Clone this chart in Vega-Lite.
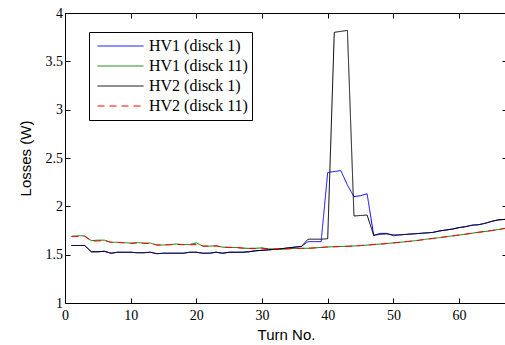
{
  "$schema": "https://vega.github.io/schema/vega-lite/v6.json",
  "width": 442,
  "height": 290,
  "autosize": {"type": "none"},
  "padding": {"left": 65, "top": 13, "right": 0, "bottom": 42},
  "background": "white",
  "config": {
    "view": {"stroke": "black", "strokeWidth": 1},
    "axis": {
      "domainColor": "black",
      "tickColor": "black",
      "labelColor": "black",
      "titleColor": "black",
      "grid": false,
      "labelFont": "Liberation Serif",
      "labelFontSize": 14,
      "titleFont": "Liberation Sans",
      "titleFontSize": 15,
      "titleFontWeight": "normal",
      "tickSize": -5
    }
  },
  "datasets": {
    "losses": [
      {"turn":1,"series":"HV1 (disck 1)","loss":1.595},{"turn":2,"series":"HV1 (disck 1)","loss":1.595},{"turn":3,"series":"HV1 (disck 1)","loss":1.595},{"turn":4,"series":"HV1 (disck 1)","loss":1.53},{"turn":5,"series":"HV1 (disck 1)","loss":1.53},{"turn":6,"series":"HV1 (disck 1)","loss":1.535},{"turn":7,"series":"HV1 (disck 1)","loss":1.515},{"turn":8,"series":"HV1 (disck 1)","loss":1.525},{"turn":9,"series":"HV1 (disck 1)","loss":1.525},{"turn":10,"series":"HV1 (disck 1)","loss":1.525},{"turn":11,"series":"HV1 (disck 1)","loss":1.52},{"turn":12,"series":"HV1 (disck 1)","loss":1.52},{"turn":13,"series":"HV1 (disck 1)","loss":1.525},{"turn":14,"series":"HV1 (disck 1)","loss":1.51},{"turn":15,"series":"HV1 (disck 1)","loss":1.515},{"turn":16,"series":"HV1 (disck 1)","loss":1.515},{"turn":17,"series":"HV1 (disck 1)","loss":1.515},{"turn":18,"series":"HV1 (disck 1)","loss":1.515},{"turn":19,"series":"HV1 (disck 1)","loss":1.525},{"turn":20,"series":"HV1 (disck 1)","loss":1.525},{"turn":21,"series":"HV1 (disck 1)","loss":1.515},{"turn":22,"series":"HV1 (disck 1)","loss":1.515},{"turn":23,"series":"HV1 (disck 1)","loss":1.525},{"turn":24,"series":"HV1 (disck 1)","loss":1.515},{"turn":25,"series":"HV1 (disck 1)","loss":1.525},{"turn":26,"series":"HV1 (disck 1)","loss":1.525},{"turn":27,"series":"HV1 (disck 1)","loss":1.525},{"turn":28,"series":"HV1 (disck 1)","loss":1.53},{"turn":29,"series":"HV1 (disck 1)","loss":1.54},{"turn":30,"series":"HV1 (disck 1)","loss":1.545},{"turn":31,"series":"HV1 (disck 1)","loss":1.55},{"turn":32,"series":"HV1 (disck 1)","loss":1.555},{"turn":33,"series":"HV1 (disck 1)","loss":1.562},{"turn":34,"series":"HV1 (disck 1)","loss":1.57},{"turn":35,"series":"HV1 (disck 1)","loss":1.578},{"turn":36,"series":"HV1 (disck 1)","loss":1.585},{"turn":37,"series":"HV1 (disck 1)","loss":1.635},{"turn":38,"series":"HV1 (disck 1)","loss":1.635},{"turn":39,"series":"HV1 (disck 1)","loss":1.635},{"turn":40,"series":"HV1 (disck 1)","loss":2.35},{"turn":41,"series":"HV1 (disck 1)","loss":2.36},{"turn":42,"series":"HV1 (disck 1)","loss":2.37},{"turn":43,"series":"HV1 (disck 1)","loss":2.22},{"turn":44,"series":"HV1 (disck 1)","loss":2.1},{"turn":45,"series":"HV1 (disck 1)","loss":2.11},{"turn":46,"series":"HV1 (disck 1)","loss":2.13},{"turn":47,"series":"HV1 (disck 1)","loss":1.7},{"turn":48,"series":"HV1 (disck 1)","loss":1.72},{"turn":49,"series":"HV1 (disck 1)","loss":1.72},{"turn":50,"series":"HV1 (disck 1)","loss":1.695},{"turn":51,"series":"HV1 (disck 1)","loss":1.705},{"turn":52,"series":"HV1 (disck 1)","loss":1.71},{"turn":53,"series":"HV1 (disck 1)","loss":1.715},{"turn":54,"series":"HV1 (disck 1)","loss":1.72},{"turn":55,"series":"HV1 (disck 1)","loss":1.725},{"turn":56,"series":"HV1 (disck 1)","loss":1.73},{"turn":57,"series":"HV1 (disck 1)","loss":1.745},{"turn":58,"series":"HV1 (disck 1)","loss":1.755},{"turn":59,"series":"HV1 (disck 1)","loss":1.765},{"turn":60,"series":"HV1 (disck 1)","loss":1.78},{"turn":61,"series":"HV1 (disck 1)","loss":1.79},{"turn":62,"series":"HV1 (disck 1)","loss":1.805},{"turn":63,"series":"HV1 (disck 1)","loss":1.81},{"turn":64,"series":"HV1 (disck 1)","loss":1.825},{"turn":65,"series":"HV1 (disck 1)","loss":1.845},{"turn":66,"series":"HV1 (disck 1)","loss":1.86},{"turn":67,"series":"HV1 (disck 1)","loss":1.865},

      {"turn":1,"series":"HV1 (disck 11)","loss":1.69},{"turn":2,"series":"HV1 (disck 11)","loss":1.695},{"turn":3,"series":"HV1 (disck 11)","loss":1.695},{"turn":4,"series":"HV1 (disck 11)","loss":1.645},{"turn":5,"series":"HV1 (disck 11)","loss":1.65},{"turn":6,"series":"HV1 (disck 11)","loss":1.65},{"turn":7,"series":"HV1 (disck 11)","loss":1.628},{"turn":8,"series":"HV1 (disck 11)","loss":1.628},{"turn":9,"series":"HV1 (disck 11)","loss":1.625},{"turn":10,"series":"HV1 (disck 11)","loss":1.62},{"turn":11,"series":"HV1 (disck 11)","loss":1.625},{"turn":12,"series":"HV1 (disck 11)","loss":1.62},{"turn":13,"series":"HV1 (disck 11)","loss":1.62},{"turn":14,"series":"HV1 (disck 11)","loss":1.6},{"turn":15,"series":"HV1 (disck 11)","loss":1.6},{"turn":16,"series":"HV1 (disck 11)","loss":1.605},{"turn":17,"series":"HV1 (disck 11)","loss":1.61},{"turn":18,"series":"HV1 (disck 11)","loss":1.605},{"turn":19,"series":"HV1 (disck 11)","loss":1.605},{"turn":20,"series":"HV1 (disck 11)","loss":1.622},{"turn":21,"series":"HV1 (disck 11)","loss":1.588},{"turn":22,"series":"HV1 (disck 11)","loss":1.588},{"turn":23,"series":"HV1 (disck 11)","loss":1.592},{"turn":24,"series":"HV1 (disck 11)","loss":1.578},{"turn":25,"series":"HV1 (disck 11)","loss":1.575},{"turn":26,"series":"HV1 (disck 11)","loss":1.575},{"turn":27,"series":"HV1 (disck 11)","loss":1.568},{"turn":28,"series":"HV1 (disck 11)","loss":1.565},{"turn":29,"series":"HV1 (disck 11)","loss":1.566},{"turn":30,"series":"HV1 (disck 11)","loss":1.57},{"turn":31,"series":"HV1 (disck 11)","loss":1.56},{"turn":32,"series":"HV1 (disck 11)","loss":1.558},{"turn":33,"series":"HV1 (disck 11)","loss":1.556},{"turn":34,"series":"HV1 (disck 11)","loss":1.562},{"turn":35,"series":"HV1 (disck 11)","loss":1.565},{"turn":36,"series":"HV1 (disck 11)","loss":1.566},{"turn":37,"series":"HV1 (disck 11)","loss":1.566},{"turn":38,"series":"HV1 (disck 11)","loss":1.57},{"turn":39,"series":"HV1 (disck 11)","loss":1.575},{"turn":40,"series":"HV1 (disck 11)","loss":1.58},{"turn":41,"series":"HV1 (disck 11)","loss":1.582},{"turn":42,"series":"HV1 (disck 11)","loss":1.585},{"turn":43,"series":"HV1 (disck 11)","loss":1.587},{"turn":44,"series":"HV1 (disck 11)","loss":1.59},{"turn":45,"series":"HV1 (disck 11)","loss":1.594},{"turn":46,"series":"HV1 (disck 11)","loss":1.599},{"turn":47,"series":"HV1 (disck 11)","loss":1.605},{"turn":48,"series":"HV1 (disck 11)","loss":1.61},{"turn":49,"series":"HV1 (disck 11)","loss":1.615},{"turn":50,"series":"HV1 (disck 11)","loss":1.622},{"turn":51,"series":"HV1 (disck 11)","loss":1.628},{"turn":52,"series":"HV1 (disck 11)","loss":1.635},{"turn":53,"series":"HV1 (disck 11)","loss":1.642},{"turn":54,"series":"HV1 (disck 11)","loss":1.65},{"turn":55,"series":"HV1 (disck 11)","loss":1.66},{"turn":56,"series":"HV1 (disck 11)","loss":1.668},{"turn":57,"series":"HV1 (disck 11)","loss":1.676},{"turn":58,"series":"HV1 (disck 11)","loss":1.685},{"turn":59,"series":"HV1 (disck 11)","loss":1.694},{"turn":60,"series":"HV1 (disck 11)","loss":1.703},{"turn":61,"series":"HV1 (disck 11)","loss":1.712},{"turn":62,"series":"HV1 (disck 11)","loss":1.722},{"turn":63,"series":"HV1 (disck 11)","loss":1.732},{"turn":64,"series":"HV1 (disck 11)","loss":1.74},{"turn":65,"series":"HV1 (disck 11)","loss":1.75},{"turn":66,"series":"HV1 (disck 11)","loss":1.76},{"turn":67,"series":"HV1 (disck 11)","loss":1.772},

      {"turn":1,"series":"HV2 (disck 1)","loss":1.595},{"turn":2,"series":"HV2 (disck 1)","loss":1.595},{"turn":3,"series":"HV2 (disck 1)","loss":1.595},{"turn":4,"series":"HV2 (disck 1)","loss":1.53},{"turn":5,"series":"HV2 (disck 1)","loss":1.53},{"turn":6,"series":"HV2 (disck 1)","loss":1.535},{"turn":7,"series":"HV2 (disck 1)","loss":1.515},{"turn":8,"series":"HV2 (disck 1)","loss":1.525},{"turn":9,"series":"HV2 (disck 1)","loss":1.525},{"turn":10,"series":"HV2 (disck 1)","loss":1.525},{"turn":11,"series":"HV2 (disck 1)","loss":1.52},{"turn":12,"series":"HV2 (disck 1)","loss":1.52},{"turn":13,"series":"HV2 (disck 1)","loss":1.525},{"turn":14,"series":"HV2 (disck 1)","loss":1.51},{"turn":15,"series":"HV2 (disck 1)","loss":1.515},{"turn":16,"series":"HV2 (disck 1)","loss":1.515},{"turn":17,"series":"HV2 (disck 1)","loss":1.515},{"turn":18,"series":"HV2 (disck 1)","loss":1.515},{"turn":19,"series":"HV2 (disck 1)","loss":1.525},{"turn":20,"series":"HV2 (disck 1)","loss":1.525},{"turn":21,"series":"HV2 (disck 1)","loss":1.515},{"turn":22,"series":"HV2 (disck 1)","loss":1.515},{"turn":23,"series":"HV2 (disck 1)","loss":1.525},{"turn":24,"series":"HV2 (disck 1)","loss":1.515},{"turn":25,"series":"HV2 (disck 1)","loss":1.525},{"turn":26,"series":"HV2 (disck 1)","loss":1.525},{"turn":27,"series":"HV2 (disck 1)","loss":1.525},{"turn":28,"series":"HV2 (disck 1)","loss":1.53},{"turn":29,"series":"HV2 (disck 1)","loss":1.54},{"turn":30,"series":"HV2 (disck 1)","loss":1.545},{"turn":31,"series":"HV2 (disck 1)","loss":1.55},{"turn":32,"series":"HV2 (disck 1)","loss":1.555},{"turn":33,"series":"HV2 (disck 1)","loss":1.562},{"turn":34,"series":"HV2 (disck 1)","loss":1.57},{"turn":35,"series":"HV2 (disck 1)","loss":1.578},{"turn":36,"series":"HV2 (disck 1)","loss":1.585},{"turn":37,"series":"HV2 (disck 1)","loss":1.66},{"turn":38,"series":"HV2 (disck 1)","loss":1.66},{"turn":39,"series":"HV2 (disck 1)","loss":1.66},{"turn":40,"series":"HV2 (disck 1)","loss":1.665},{"turn":41,"series":"HV2 (disck 1)","loss":3.8},{"turn":42,"series":"HV2 (disck 1)","loss":3.81},{"turn":43,"series":"HV2 (disck 1)","loss":3.82},{"turn":44,"series":"HV2 (disck 1)","loss":1.9},{"turn":45,"series":"HV2 (disck 1)","loss":1.905},{"turn":46,"series":"HV2 (disck 1)","loss":1.91},{"turn":47,"series":"HV2 (disck 1)","loss":1.7},{"turn":48,"series":"HV2 (disck 1)","loss":1.71},{"turn":49,"series":"HV2 (disck 1)","loss":1.715},{"turn":50,"series":"HV2 (disck 1)","loss":1.705},{"turn":51,"series":"HV2 (disck 1)","loss":1.705},{"turn":52,"series":"HV2 (disck 1)","loss":1.71},{"turn":53,"series":"HV2 (disck 1)","loss":1.715},{"turn":54,"series":"HV2 (disck 1)","loss":1.72},{"turn":55,"series":"HV2 (disck 1)","loss":1.725},{"turn":56,"series":"HV2 (disck 1)","loss":1.73},{"turn":57,"series":"HV2 (disck 1)","loss":1.745},{"turn":58,"series":"HV2 (disck 1)","loss":1.755},{"turn":59,"series":"HV2 (disck 1)","loss":1.765},{"turn":60,"series":"HV2 (disck 1)","loss":1.78},{"turn":61,"series":"HV2 (disck 1)","loss":1.79},{"turn":62,"series":"HV2 (disck 1)","loss":1.805},{"turn":63,"series":"HV2 (disck 1)","loss":1.81},{"turn":64,"series":"HV2 (disck 1)","loss":1.825},{"turn":65,"series":"HV2 (disck 1)","loss":1.845},{"turn":66,"series":"HV2 (disck 1)","loss":1.86},{"turn":67,"series":"HV2 (disck 1)","loss":1.865},

      {"turn":1,"series":"HV2 (disck 11)","loss":1.688},{"turn":2,"series":"HV2 (disck 11)","loss":1.69},{"turn":3,"series":"HV2 (disck 11)","loss":1.69},{"turn":4,"series":"HV2 (disck 11)","loss":1.64},{"turn":5,"series":"HV2 (disck 11)","loss":1.642},{"turn":6,"series":"HV2 (disck 11)","loss":1.645},{"turn":7,"series":"HV2 (disck 11)","loss":1.628},{"turn":8,"series":"HV2 (disck 11)","loss":1.626},{"turn":9,"series":"HV2 (disck 11)","loss":1.622},{"turn":10,"series":"HV2 (disck 11)","loss":1.616},{"turn":11,"series":"HV2 (disck 11)","loss":1.62},{"turn":12,"series":"HV2 (disck 11)","loss":1.617},{"turn":13,"series":"HV2 (disck 11)","loss":1.616},{"turn":14,"series":"HV2 (disck 11)","loss":1.6},{"turn":15,"series":"HV2 (disck 11)","loss":1.6},{"turn":16,"series":"HV2 (disck 11)","loss":1.602},{"turn":17,"series":"HV2 (disck 11)","loss":1.606},{"turn":18,"series":"HV2 (disck 11)","loss":1.603},{"turn":19,"series":"HV2 (disck 11)","loss":1.602},{"turn":20,"series":"HV2 (disck 11)","loss":1.605},{"turn":21,"series":"HV2 (disck 11)","loss":1.59},{"turn":22,"series":"HV2 (disck 11)","loss":1.588},{"turn":23,"series":"HV2 (disck 11)","loss":1.59},{"turn":24,"series":"HV2 (disck 11)","loss":1.578},{"turn":25,"series":"HV2 (disck 11)","loss":1.575},{"turn":26,"series":"HV2 (disck 11)","loss":1.574},{"turn":27,"series":"HV2 (disck 11)","loss":1.568},{"turn":28,"series":"HV2 (disck 11)","loss":1.565},{"turn":29,"series":"HV2 (disck 11)","loss":1.564},{"turn":30,"series":"HV2 (disck 11)","loss":1.566},{"turn":31,"series":"HV2 (disck 11)","loss":1.56},{"turn":32,"series":"HV2 (disck 11)","loss":1.558},{"turn":33,"series":"HV2 (disck 11)","loss":1.557},{"turn":34,"series":"HV2 (disck 11)","loss":1.56},{"turn":35,"series":"HV2 (disck 11)","loss":1.563},{"turn":36,"series":"HV2 (disck 11)","loss":1.565},{"turn":37,"series":"HV2 (disck 11)","loss":1.566},{"turn":38,"series":"HV2 (disck 11)","loss":1.57},{"turn":39,"series":"HV2 (disck 11)","loss":1.575},{"turn":40,"series":"HV2 (disck 11)","loss":1.58},{"turn":41,"series":"HV2 (disck 11)","loss":1.582},{"turn":42,"series":"HV2 (disck 11)","loss":1.585},{"turn":43,"series":"HV2 (disck 11)","loss":1.587},{"turn":44,"series":"HV2 (disck 11)","loss":1.59},{"turn":45,"series":"HV2 (disck 11)","loss":1.594},{"turn":46,"series":"HV2 (disck 11)","loss":1.599},{"turn":47,"series":"HV2 (disck 11)","loss":1.605},{"turn":48,"series":"HV2 (disck 11)","loss":1.61},{"turn":49,"series":"HV2 (disck 11)","loss":1.615},{"turn":50,"series":"HV2 (disck 11)","loss":1.622},{"turn":51,"series":"HV2 (disck 11)","loss":1.628},{"turn":52,"series":"HV2 (disck 11)","loss":1.635},{"turn":53,"series":"HV2 (disck 11)","loss":1.642},{"turn":54,"series":"HV2 (disck 11)","loss":1.65},{"turn":55,"series":"HV2 (disck 11)","loss":1.66},{"turn":56,"series":"HV2 (disck 11)","loss":1.668},{"turn":57,"series":"HV2 (disck 11)","loss":1.676},{"turn":58,"series":"HV2 (disck 11)","loss":1.685},{"turn":59,"series":"HV2 (disck 11)","loss":1.694},{"turn":60,"series":"HV2 (disck 11)","loss":1.703},{"turn":61,"series":"HV2 (disck 11)","loss":1.712},{"turn":62,"series":"HV2 (disck 11)","loss":1.722},{"turn":63,"series":"HV2 (disck 11)","loss":1.732},{"turn":64,"series":"HV2 (disck 11)","loss":1.74},{"turn":65,"series":"HV2 (disck 11)","loss":1.75},{"turn":66,"series":"HV2 (disck 11)","loss":1.76},{"turn":67,"series":"HV2 (disck 11)","loss":1.772}
    ]
  },
  "data": {"name": "losses"},
  "layer": [
    {
      "mark": {"type": "line", "strokeWidth": 1, "clip": true},
      "encoding": {
        "x": {
          "field": "turn", "type": "quantitative",
          "scale": {"domain": [0, 67.3], "nice": false, "zero": false},
          "axis": {"orient": "bottom", "title": "Turn No.", "values": [0, 10, 20, 30, 40, 50, 60], "labelPadding": 10, "titlePadding": 5, "labelFlush": false}
        },
        "y": {
          "field": "loss", "type": "quantitative",
          "scale": {"domain": [1, 4], "nice": false, "zero": false},
          "axis": {"orient": "left", "title": "Losses (W)", "values": [1, 1.5, 2, 2.5, 3, 3.5, 4], "format": "~g", "labelPadding": 7.5, "titlePadding": 12, "labelFlush": false}
        },
        "color": {
          "field": "series", "type": "nominal",
          "scale": {
            "domain": ["HV1 (disck 1)", "HV1 (disck 11)", "HV2 (disck 1)", "HV2 (disck 11)"],
            "range": ["#0000ff", "#008000", "#000000", "#ff0000"]
          },
          "legend": {
            "title": null,
            "orient": "none",
            "legendX": 24,
            "legendY": 19,
            "strokeColor": "black",
            "fillColor": "white",
            "padding": 4,
            "rowPadding": 0,
            "clipHeight": 20,
            "symbolSize": 2116,
            "symbolStrokeWidth": 1,
            "symbolOffset": 4,
            "labelFont": "Liberation Serif",
            "labelFontSize": 16,
            "labelColor": "black",
            "labelOffset": 5
          }
        },
        "strokeDash": {
          "field": "series", "type": "nominal",
          "scale": {
            "domain": ["HV1 (disck 1)", "HV1 (disck 11)", "HV2 (disck 1)", "HV2 (disck 11)"],
            "range": [[1, 0], [1, 0], [1, 0], [7, 5]]
          },
          "legend": null
        }
      }
    },
    {
      "mark": {"type": "point", "opacity": 0},
      "encoding": {
        "x": {
          "field": "turn", "type": "quantitative",
          "scale": {"domain": [0, 67.3], "nice": false, "zero": false},
          "axis": {"orient": "top", "title": null, "labels": false, "values": [0, 10, 20, 30, 40, 50, 60]}
        },
        "y": {
          "field": "loss", "type": "quantitative",
          "scale": {"domain": [1, 4], "nice": false, "zero": false},
          "axis": {"orient": "right", "title": null, "labels": false, "values": [1, 1.5, 2, 2.5, 3, 3.5, 4]}
        }
      }
    }
  ],
  "resolve": {"axis": {"x": "independent", "y": "independent"}}
}
